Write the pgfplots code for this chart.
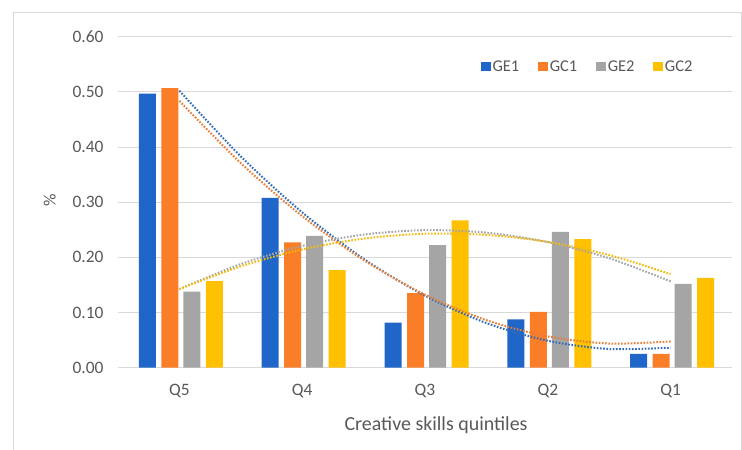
\documentclass[border=0pt]{standalone}
\usepackage{pgfplots}
\pgfplotsset{compat=1.18}
\usepackage{fontspec}
\setmainfont{Carlito}
\definecolor{cblue}{RGB}{31,102,200}
\definecolor{corange}{RGB}{250,125,40}
\definecolor{cgray}{RGB}{165,165,165}
\definecolor{cyellow}{RGB}{255,192,0}
\definecolor{gridgray}{RGB}{217,217,217}
\definecolor{labelgray}{RGB}{89,89,89}
\begin{document}
\begin{tikzpicture}
\useasboundingbox (0bp,0bp) rectangle (742bp,450bp);
\fill[white] (0bp,0bp) rectangle (742bp,450bp);
\draw[gridgray, line width=1bp] (13bp,-5bp) -- (13bp,437bp) -- (741bp,437bp) -- (741bp,-5bp);
\begin{axis}[
  scale only axis, width=614bp, height=331bp,
  at={(118bp,82.3bp)}, anchor=south west,
  xmin=0.5, xmax=5.5, ymin=0, ymax=0.6,
  xtick={1,2,3,4,5}, xticklabels={Q5,Q4,Q3,Q2,Q1},
  ytick={0,0.1,0.2,0.3,0.4,0.5,0.6},
  ymajorgrids, grid style={draw=gridgray, line width=1bp},
  axis line style={draw=none},
  major tick length=0pt, tick style={draw=none},
  ticklabel style={font=\fontsize{17.5}{20}\selectfont, text=labelgray},
  /pgf/number format/assume math mode=true,
  yticklabel style={/pgf/number format/.cd, fixed, fixed zerofill, precision=2, /tikz/.cd, xshift=-11bp},
  xticklabel style={yshift=-13bp},
  xlabel={Creative skills quintiles}, ylabel={\%},
  label style={font=\fontsize{20}{24}\selectfont, text=labelgray},
  xlabel style={at={(axis description cs:0.518,-0.173)}, anchor=center},
  ylabel style={at={(axis description cs:-0.111,0.507)}, anchor=center, font=\fontsize{17.5}{20}\selectfont},
  legend style={at={(rel axis cs:0.944,0.9085)}, anchor=east, draw=none, fill=none,
    font=\fontsize{16.5}{19}\selectfont, text=labelgray, legend columns=4,
    /tikz/every even column/.append style={column sep=17bp}},
  legend image code/.code={\begin{scope}[#1]\fill (0bp,-4.5bp) rectangle (9.5bp,4.5bp);\end{scope}},
]
\addplot[ybar, bar width=17bp, bar shift=-32bp, fill=cblue, draw=none] coordinates {(1,0.497) (2,0.308) (3,0.0815) (4,0.0877) (5,0.025)};
\addlegendentry{GE1}
\addplot[ybar, bar width=17bp, bar shift=-9.5bp, fill=corange, draw=none] coordinates {(1,0.507) (2,0.227) (3,0.135) (4,0.101) (5,0.025)};
\addlegendentry{GC1}
\addplot[ybar, bar width=17bp, bar shift=12.5bp, fill=cgray, draw=none] coordinates {(1,0.138) (2,0.239) (3,0.222) (4,0.246) (5,0.152)};
\addlegendentry{GE2}
\addplot[ybar, bar width=17bp, bar shift=35bp, fill=cyellow, draw=none] coordinates {(1,0.157) (2,0.177) (3,0.267) (4,0.233) (5,0.163)};
\addlegendentry{GC2}
% polynomial trendlines
\addplot[smooth, cblue!80!gray, line width=2bp, dash pattern=on 1.6bp off 1.6bp, forget plot] coordinates {(1,0.502) (1.5,0.383) (2,0.2816) (2.5,0.1974) (3,0.1305) (3.5,0.0809) (4,0.0488) (4.5,0.0339) (5,0.0363)};
\addplot[smooth, corange!85!gray, line width=2bp, dash pattern=on 1.6bp off 1.6bp, forget plot] coordinates {(1,0.4836) (1.5,0.3708) (2,0.2747) (2.5,0.1952) (3,0.1324) (3.5,0.0862) (4,0.0567) (4.5,0.0438) (5,0.0476)};
\addplot[smooth, cgray, line width=2bp, dash pattern=on 1.6bp off 1.6bp, forget plot] coordinates {(1,0.1425) (1.5,0.1879) (2,0.2208) (2.5,0.2413) (3,0.2493) (3.5,0.2448) (4,0.2278) (4.5,0.1984) (5,0.1565)};
\addplot[smooth, cyellow!90!gray, line width=2bp, dash pattern=on 1.6bp off 1.6bp, forget plot] coordinates {(1,0.1424) (1.5,0.1838) (2,0.2143) (2.5,0.2340) (3,0.2428) (3.5,0.2408) (4,0.2279) (4.5,0.2042) (5,0.1696)};
\end{axis}
\end{tikzpicture}
\end{document}
